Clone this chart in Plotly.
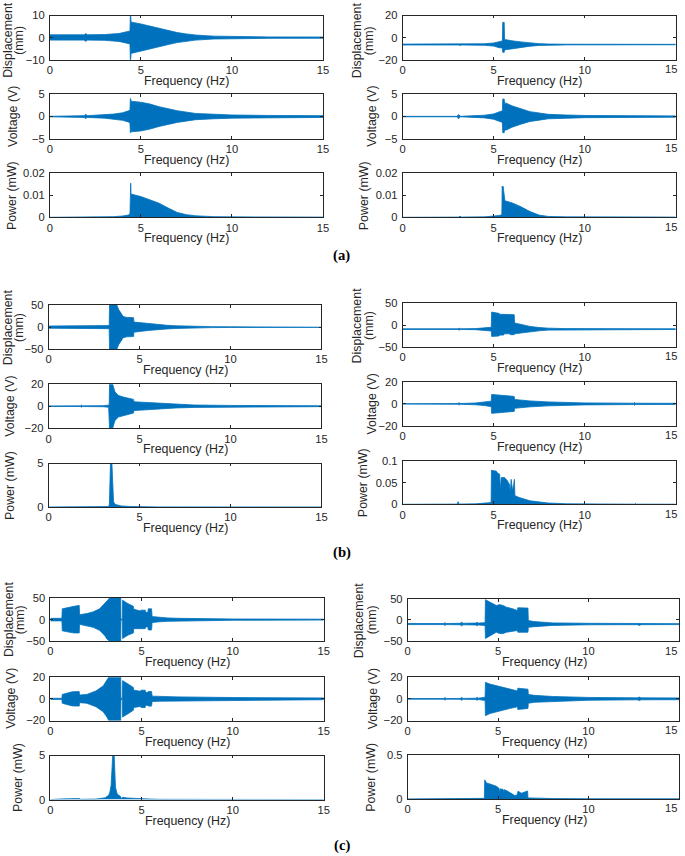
import plotly.graph_objects as go

# Figure fills the 685x856 window (body margin removed in post_script).
W, H = 685, 856
# The photographed page comes out about 1.5% smaller and a few px offset;
# layout positions below are written in the reference picture's pixels and
# mapped through this measured correction.
SX, OX = 0.9845, 4.0
SY, OY = 0.985, 6.2
BLUE = "rgb(0,114,189)"
INK = "#262626"
FONT = "Liberation Sans, Arial, sans-serif"

FREQ_TICKS = [0, 5, 10, 15]
FREQ_TICK_TEXT = ["0", "5", "10", "15"]
FREQ_RANGE = [0, 15]

# ---------------- (a) left ----------------
A_L_DISP_F = [0, 1.9, 1.95, 2.0, 2.05, 3.0, 3.8, 4.2, 4.4, 4.42, 4.44, 4.46, 4.5, 5.0, 5.5, 6.0, 6.5, 7.0, 7.5, 8.0, 9.0, 10.0, 12.0, 15.0]
A_L_DISP_HI = [1.3, 1.3, 1.8, 1.8, 1.3, 1.4, 1.9, 2.5, 3.0, 10, 10, 7.2, 7.0, 6.2, 5.2, 4.2, 3.2, 2.3, 1.7, 1.2, 0.7, 0.5, 0.35, 0.3]
A_L_DISP_LO = [-1.1, -1.1, -1.6, -1.6, -1.1, -1.2, -1.7, -2.4, -2.8, -10, -10, -7.1, -6.9, -6.1, -5.1, -4.1, -3.1, -2.2, -1.6, -1.1, -0.6, -0.45, -0.3, -0.25]

A_L_VOLT_F = [0, 1.0, 1.9, 1.95, 2.0, 2.05, 3.0, 3.5, 4.0, 4.3, 4.4, 4.42, 4.44, 4.46, 4.5, 5.0, 5.5, 6.0, 6.5, 7.0, 8.0, 9.0, 10.0, 12.0, 15.0]
A_L_VOLT_HI = [0.05, 0.1, 0.2, 0.45, 0.45, 0.2, 0.35, 0.55, 0.85, 1.2, 1.4, 4.0, 4.0, 3.4, 3.4, 3.2, 2.8, 2.2, 1.7, 1.3, 0.7, 0.5, 0.35, 0.25, 0.2]
A_L_VOLT_LO = [-0.05, -0.1, -0.2, -0.45, -0.45, -0.2, -0.35, -0.55, -0.85, -1.2, -1.4, -3.6, -3.6, -3.4, -3.4, -3.2, -2.8, -2.2, -1.7, -1.3, -0.7, -0.5, -0.35, -0.25, -0.2]

A_L_POW_F = [0, 2.0, 3.0, 3.5, 4.0, 4.3, 4.4, 4.42, 4.44, 4.46, 4.5, 5.0, 5.5, 6.0, 6.5, 7.0, 7.5, 8.0, 9.0, 10.0, 15.0]
A_L_POW_HI = [0, 0.00005, 0.0002, 0.0003, 0.0006, 0.001, 0.0015, 0.0155, 0.0155, 0.0105, 0.0105, 0.0094, 0.008, 0.0064, 0.0042, 0.0022, 0.0012, 0.0007, 0.0003, 0.0002, 0.0001]

# ---------------- (a) right ----------------
A_R_DISP_F = [0, 3.1, 3.15, 3.2, 3.25, 4.5, 5.0, 5.3, 5.48, 5.5, 5.58, 5.6, 5.7, 6.0, 6.5, 7.0, 7.5, 8.0, 9.0, 15.0]
A_R_DISP_HI = [-5.8, -5.8, -5.3, -5.3, -5.8, -5.5, -4.8, -3.5, -3.0, 13.8, 13.8, -1.6, -2.0, -2.8, -3.8, -4.8, -5.4, -5.7, -5.9, -6.0]
A_R_DISP_LO = [-6.6, -6.6, -7.1, -7.1, -6.6, -6.9, -7.6, -9.0, -9.4, -13.2, -13.2, -11.0, -10.5, -9.8, -8.7, -7.7, -7.0, -6.7, -6.5, -6.4]

A_R_VOLT_F = [0, 3.0, 3.05, 3.1, 3.15, 4.0, 4.5, 5.0, 5.3, 5.48, 5.5, 5.58, 5.6, 5.7, 6.0, 6.5, 7.0, 7.5, 8.0, 9.0, 10.0, 15.0]
A_R_VOLT_HI = [0.05, 0.05, 0.4, 0.4, 0.05, 0.15, 0.3, 0.6, 1.0, 1.3, 3.9, 3.9, 3.0, 3.0, 2.4, 1.7, 1.1, 0.8, 0.5, 0.35, 0.25, 0.15]
A_R_VOLT_LO = [-0.05, -0.05, -0.4, -0.4, -0.05, -0.15, -0.3, -0.6, -1.0, -1.3, -3.6, -3.6, -3.0, -3.0, -2.4, -1.7, -1.1, -0.8, -0.5, -0.35, -0.25, -0.15]

A_R_POW_F = [0, 3.1, 3.15, 3.2, 4.5, 5.0, 5.3, 5.45, 5.47, 5.5, 5.52, 5.55, 5.58, 5.62, 5.7, 6.0, 6.5, 7.0, 7.5, 8.0, 9.0, 15.0]
A_R_POW_HI = [0, 0.0001, 0.0006, 0.0001, 0.0002, 0.0004, 0.0008, 0.0012, 0.0142, 0.0128, 0.014, 0.0122, 0.0085, 0.0075, 0.0073, 0.0066, 0.0048, 0.0026, 0.001, 0.0004, 0.0002, 0.0001]

# ---------------- (b) left ----------------
B_L_DISP_F = [0, 1.75, 1.8, 1.85, 3.0, 3.3, 3.33, 3.35, 3.75, 3.85, 3.95, 4.05, 4.1, 4.3, 4.67, 4.69, 5.0, 5.5, 6.0, 6.5, 7.0, 8.0, 9.0, 10.0, 15.0]
B_L_DISP_HI = [2.5, 2.5, 4.0, 2.5, 2.8, 3.5, 3.5, 50, 50, 40, 33, 28, 24, 22, 21.5, 11.5, 10.0, 7.5, 5.4, 4.2, 3.0, 1.6, 1.1, 0.8, 0.5]
B_L_DISP_LO = [-2.5, -2.5, -4.0, -2.5, -2.8, -3.5, -3.5, -50, -50, -40, -33, -27, -24, -22, -21.5, -11.5, -10.0, -7.5, -5.4, -4.2, -3.0, -1.6, -1.1, -0.8, -0.5]

B_L_VOLT_F = [0, 1.75, 1.8, 1.85, 3.0, 3.3, 3.33, 3.35, 3.52, 3.65, 3.84, 4.11, 4.4, 4.67, 4.69, 5.0, 5.5, 6.0, 7.0, 8.0, 10.0, 15.0]
B_L_VOLT_HI = [0.2, 0.3, 1.0, 0.3, 0.5, 1.0, 1.0, 20, 20, 12.9, 9.8, 8.3, 7.2, 6.2, 4.0, 3.7, 3.0, 2.4, 1.6, 1.1, 0.7, 0.4]
B_L_VOLT_LO = [-0.2, -0.3, -1.0, -0.3, -0.5, -1.0, -1.0, -20, -20, -12.9, -9.8, -8.3, -7.2, -6.2, -4.0, -3.7, -3.0, -2.4, -1.6, -1.1, -0.7, -0.4]

B_L_POW_F = [0, 3.0, 3.3, 3.34, 3.36, 3.4, 3.48, 3.53, 3.57, 3.66, 3.8, 4.0, 4.5, 5.0, 6.0, 15.0]
B_L_POW_HI = [0, 0.01, 0.05, 0.3, 1.5, 5.0, 5.0, 1.4, 0.6, 0.3, 0.2, 0.12, 0.06, 0.03, 0.01, 0.0]

# ---------------- (b) right ----------------
B_R_DISP_F = [0, 3.05, 3.1, 3.15, 4.0, 4.5, 4.87, 4.89, 5.3, 5.32, 5.55, 5.57, 5.9, 5.92, 6.13, 6.15, 6.5, 7.0, 7.5, 8.0, 9.0, 12.7, 12.75, 12.8, 15.0]
B_R_DISP_HI = [-8.5, -8.5, -6.5, -8.5, -8.0, -7.0, -5.0, 30.0, 27.0, 25.0, 25.0, 24.0, 24.0, 24.5, 24.0, 5.0, 1.0, -3.0, -5.5, -7.0, -8.0, -8.5, -7.0, -8.5, -8.5]
B_R_DISP_LO = [-10.0, -10.0, -12.0, -10.0, -10.5, -11.5, -13.5, -26.0, -25.0, -23.0, -23.0, -20.0, -20.0, -22.0, -22.0, -20.0, -17.5, -15.0, -13.0, -11.5, -10.5, -10.0, -11.5, -10.0, -10.0]

B_R_VOLT_F = [0, 3.05, 3.1, 3.15, 4.0, 4.5, 4.87, 4.89, 5.3, 5.6, 5.9, 6.13, 6.15, 6.5, 7.0, 8.0, 9.0, 10.0, 12.7, 12.75, 12.8, 15.0]
B_R_VOLT_HI = [0.1, 0.3, 1.2, 0.3, 0.8, 1.5, 2.5, 8.6, 8.0, 7.5, 7.0, 6.8, 4.0, 3.4, 2.7, 1.8, 1.2, 0.9, 0.6, 1.3, 0.6, 0.5]
B_R_VOLT_LO = [-0.1, -0.3, -1.2, -0.3, -0.8, -1.5, -2.5, -8.6, -8.0, -7.5, -7.0, -6.8, -4.0, -3.4, -2.7, -1.8, -1.2, -0.9, -0.6, -1.3, -0.6, -0.5]

B_R_POW_F = [0, 3.0, 3.05, 3.1, 4.0, 4.5, 4.86, 4.88, 5.15, 5.2, 5.33, 5.37, 5.42, 5.6, 5.75, 5.88, 5.92, 5.96, 6.0, 6.04, 6.1, 6.14, 6.17, 6.4, 7.0, 7.5, 8.0, 9.0, 10.0, 12.75, 12.8, 12.85, 15.0]
B_R_POW_HI = [0, 0.0005, 0.006, 0.0005, 0.001, 0.002, 0.004, 0.079, 0.077, 0.073, 0.07, 0.034, 0.062, 0.062, 0.055, 0.045, 0.025, 0.058, 0.035, 0.032, 0.045, 0.058, 0.02, 0.016, 0.008, 0.005, 0.003, 0.0012, 0.0005, 0.0003, 0.002, 0.0003, 0.0002]

# ---------------- (c) left ----------------
C_L_DISP_F = [0, 0.63, 0.65, 1.0, 1.3, 1.58, 1.6, 2.0, 2.35, 2.7, 2.98, 3.1, 3.25, 3.86, 3.87, 3.95, 3.96, 4.26, 4.55, 4.57, 4.95, 4.97, 5.2, 5.22, 5.35, 5.37, 5.55, 5.58, 6.0, 6.4, 7.0, 8.0, 10.0, 15.0]
C_L_DISP_HI = [3, 3, 25, 29, 31, 33, 11.5, 14, 18, 25, 37, 44, 50, 50, 1, 1, 45, 37, 31, 24, 20, 22, 22, 17, 17, 25, 25, 7, 5, 4, 3, 2, 1.5, 1]
C_L_DISP_LO = [-3, -3, -26, -29, -31, -31, -11, -14, -18, -25, -37, -45, -50, -50, -1, -1, -44, -36, -31, -21, -20, -21, -21, -17, -17, -24, -24, -7, -5, -4, -3, -2, -1.5, -1]

C_L_VOLT_F = [0, 0.63, 0.65, 1.2, 1.58, 1.6, 2.0, 2.5, 2.9, 3.1, 3.2, 3.86, 3.87, 3.95, 3.96, 4.26, 4.55, 4.57, 4.95, 4.97, 5.2, 5.22, 5.35, 5.37, 5.55, 5.58, 6.0, 7.0, 10.0, 15.0]
C_L_VOLT_HI = [0.5, 0.5, 4.1, 6.5, 6.7, 3.5, 4.1, 7.3, 12, 16.8, 20, 20, 0.5, 0.5, 16.8, 13.7, 10.5, 8, 7, 8, 8, 6, 6, 6.7, 6.7, 2.5, 2.2, 1.8, 1.2, 0.8]
C_L_VOLT_LO = [-0.5, -0.5, -4.1, -6.5, -6.7, -3.5, -4.1, -7.3, -12, -16.8, -20, -20, -0.5, -0.5, -16.8, -13.7, -10.5, -8, -7, -8, -8, -6, -6, -6.7, -6.7, -2.5, -2.2, -1.8, -1.2, -0.8]

C_L_POW_F = [0, 0.63, 0.65, 1.6, 1.62, 2.5, 3.0, 3.2, 3.26, 3.33, 3.38, 3.42, 3.5, 3.57, 3.66, 3.85, 3.9, 3.97, 4.2, 4.6, 5.0, 5.5, 6.0, 8.0, 15.0]
C_L_POW_HI = [0, 0, 0.08, 0.12, 0.03, 0.06, 0.2, 0.5, 0.83, 1.6, 3.3, 5.0, 5.0, 1.4, 0.64, 0.34, 0.1, 0.27, 0.18, 0.12, 0.08, 0.06, 0.03, 0.01, 0.005]

# ---------------- (c) right ----------------
C_R_DISP_F = [0, 2.0, 2.06, 2.12, 2.9, 2.98, 3.06, 3.78, 3.84, 3.9, 4.28, 4.3, 4.54, 4.9, 5.09, 5.28, 5.46, 5.64, 5.83, 6.07, 6.09, 6.65, 6.67, 7.0, 8.0, 10.0, 12.7, 12.8, 12.9, 15.0]
C_R_DISP_HI = [-8.5, -8.5, -6.5, -8.5, -8, -5.5, -8, -7.5, -5.5, -7.5, -6.5, 47.6, 42, 34, 36, 34, 30, 28.6, 26, 22, 28.6, 27.8, -1.6, -4, -7, -8, -8.5, -7, -8.5, -8.8]
C_R_DISP_LO = [-11, -11, -13, -11, -11.5, -14, -11.5, -12, -14, -12, -13, -43.7, -37, -29, -32, -32, -29, -28, -26, -25, -29, -29, -17.5, -16, -13, -11.5, -11.2, -13, -11.2, -11]

C_R_VOLT_F = [0, 2.0, 2.06, 2.12, 2.9, 2.98, 3.06, 3.78, 3.84, 3.9, 4.28, 4.3, 4.54, 5.09, 5.28, 5.64, 6.07, 6.09, 6.65, 6.67, 7.0, 8.0, 10.0, 12.7, 12.8, 12.9, 15.0]
C_R_VOLT_HI = [0.3, 0.3, 1.3, 0.3, 0.4, 1.3, 0.4, 0.6, 1.4, 0.6, 1.5, 15.2, 13.6, 11.4, 10.5, 8.9, 7.3, 9.8, 8.9, 4.1, 3.2, 2.2, 1.3, 0.9, 1.6, 0.9, 0.8]
C_R_VOLT_LO = [-0.3, -0.3, -1.3, -0.3, -0.4, -1.3, -0.4, -0.6, -1.4, -0.6, -1.5, -15.5, -13.6, -11.4, -10.5, -8.9, -7.3, -9.8, -8.9, -4.1, -3.2, -2.2, -1.3, -0.9, -1.6, -0.9, -0.8]

C_R_POW_F = [0, 2.9, 2.98, 3.06, 4.0, 4.24, 4.26, 4.36, 4.54, 4.9, 5.05, 5.09, 5.12, 5.28, 5.3, 5.33, 5.46, 5.64, 5.92, 6.05, 6.1, 6.29, 6.56, 6.63, 6.65, 7.0, 8.0, 10.0, 12.8, 15.0]
C_R_POW_HI = [0, 0.001, 0.006, 0.001, 0.003, 0.006, 0.216, 0.18, 0.17, 0.144, 0.12, 0.064, 0.114, 0.106, 0.07, 0.104, 0.095, 0.076, 0.038, 0.045, 0.087, 0.064, 0.087, 0.09, 0.011, 0.008, 0.004, 0.0015, 0.003, 0.001]

# ---------------- y-axis ticks ----------------
YT_DISP10 = [-10, 0, 10]
YT_DISP20 = [-20, 0, 20]
YT_DISP50 = [-50, 0, 50]
YT_VOLT5 = [-5, 0, 5]
YT_VOLT20 = [-20, 0, 20]
YT_POW002 = [0, 0.01, 0.02]
YT_POW002_TXT = ["0", "0.01", "0.02"]
YT_POW5 = [0, 5]
YT_POW01 = [0, 0.05, 0.1]
YT_POW01_TXT = ["0", "0.05", "0.1"]
YT_POW05 = [0, 0.5]
YT_POW05_TXT = ["0", "0.5"]

PANEL_LABELS = ["(a)", "(b)", "(c)"]

# (freq, upper, lower, y-range, y-ticks, y-tick text, kind, column,
#  box in reference px (x0, x1, y0, y1), y-title x positions, y-title y centre)
panels = [
    (A_L_DISP_F, A_L_DISP_HI, A_L_DISP_LO, [-10, 10], YT_DISP10, None, "disp", "L", (50.7, 323.3, 15.7, 60.0), (9.5, 20.5), 40.5),
    (A_L_VOLT_F, A_L_VOLT_HI, A_L_VOLT_LO, [-5, 5], YT_VOLT5, None, "volt", "L", (50.7, 323.3, 94.3, 139.0), (13.3,), None),
    (A_L_POW_F, A_L_POW_HI, None, [0, 0.02], YT_POW002, YT_POW002_TXT, "pow", "L", (50.7, 323.3, 173.3, 217.3), (12.8,), None),
    (A_R_DISP_F, A_R_DISP_HI, A_R_DISP_LO, [-20, 20], YT_DISP20, None, "disp", "R", (402.7, 675.0, 15.7, 60.0), (357.0, 369.0), 40.5),
    (A_R_VOLT_F, A_R_VOLT_HI, A_R_VOLT_LO, [-5, 5], YT_VOLT5, None, "volt", "R", (402.7, 675.0, 94.3, 139.0), (371.3,), None),
    (A_R_POW_F, A_R_POW_HI, None, [0, 0.02], YT_POW002, YT_POW002_TXT, "pow", "R", (402.7, 675.0, 173.3, 217.3), (364.0,), None),
    (B_L_DISP_F, B_L_DISP_HI, B_L_DISP_LO, [-50, 50], YT_DISP50, None, "disp", "L", (49.5, 321.7, 305.0, 349.0), (9.0, 19.8), None),
    (B_L_VOLT_F, B_L_VOLT_HI, B_L_VOLT_LO, [-20, 20], YT_VOLT20, None, "volt", "L", (49.5, 321.7, 384.0, 428.0), (11.5,), None),
    (B_L_POW_F, B_L_POW_HI, None, [0, 5], YT_POW5, None, "pow", "L", (49.5, 321.7, 463.3, 506.7), (11.7,), None),
    (B_R_DISP_F, B_R_DISP_HI, B_R_DISP_LO, [-50, 50], YT_DISP50, None, "disp", "R", (402.7, 675.0, 303.3, 346.7), (357.5, 369.0), None),
    (B_R_VOLT_F, B_R_VOLT_HI, B_R_VOLT_LO, [-20, 20], YT_VOLT20, None, "volt", "R", (402.7, 675.0, 381.7, 425.7), (371.7,), None),
    (B_R_POW_F, B_R_POW_HI, None, [0, 0.1], YT_POW01, YT_POW01_TXT, "pow", "R", (402.7, 675.0, 461.0, 504.0), (362.5,), None),
    (C_L_DISP_F, C_L_DISP_HI, C_L_DISP_LO, [-50, 50], YT_DISP50, None, "disp", "L", (51.3, 324.0, 597.7, 640.7), (9.5, 20.5), None),
    (C_L_VOLT_F, C_L_VOLT_HI, C_L_VOLT_LO, [-20, 20], YT_VOLT20, None, "volt", "L", (51.3, 324.0, 676.7, 720.0), (12.0,), None),
    (C_L_POW_F, C_L_POW_HI, None, [0, 5], YT_POW5, None, "pow", "L", (51.3, 324.0, 755.0, 799.0), (18.3,), None),
    (C_R_DISP_F, C_R_DISP_HI, C_R_DISP_LO, [-50, 50], YT_DISP50, None, "disp", "R", (407.7, 680.0, 598.3, 640.7), (359.5, 372.5), None),
    (C_R_VOLT_F, C_R_VOLT_HI, C_R_VOLT_LO, [-20, 20], YT_VOLT20, None, "volt", "R", (407.7, 680.0, 676.7, 720.0), (372.5,), None),
    (C_R_POW_F, C_R_POW_HI, None, [0, 0.5], YT_POW05, YT_POW05_TXT, "pow", "R", (407.7, 680.0, 754.3, 798.3), (371.0,), None),
]

TITLE_FONT = dict(family=FONT, size=12.4, color=INK)
TICK_FONT = dict(family=FONT, size=11.2, color=INK)


def px(x):
    return min(max((x - OX) / SX / W, 0.0), 1.0)


def py(y):
    return min(max(1 - (y - OY) / SY / H, 0.0), 1.0)


fig = go.Figure()
layout = {}
annotations = []

for i, (f, hi, lo, yr, yt, ytt, kind, col, box, ylx, ylc) in enumerate(panels, start=1):
    xa = "x" if i == 1 else f"x{i}"
    ya = "y" if i == 1 else f"y{i}"
    if lo is None:
        fig.add_trace(go.Scatter(x=f, y=hi, mode="lines", fill="tozeroy",
                                 line=dict(color=BLUE, width=0.8), fillcolor=BLUE,
                                 xaxis=xa, yaxis=ya, hoverinfo="skip", showlegend=False))
    else:
        fig.add_trace(go.Scatter(x=list(f) + list(f)[::-1], y=list(hi) + list(lo)[::-1],
                                 mode="lines", fill="toself",
                                 line=dict(color=BLUE, width=0.8), fillcolor=BLUE,
                                 xaxis=xa, yaxis=ya, hoverinfo="skip", showlegend=False))
    x0, x1, y0, y1 = box
    common = dict(showline=True, linecolor=INK, linewidth=0.7, mirror="ticks",
                  ticks="inside", ticklen=3, tickwidth=0.7, tickcolor=INK,
                  showgrid=False, zeroline=False, tickfont=TICK_FONT, fixedrange=True)
    xtt = FREQ_TICK_TEXT if col == "L" else FREQ_TICK_TEXT[:-1] + [""]
    layout["xaxis" if i == 1 else f"xaxis{i}"] = dict(
        domain=[px(x0), px(x1)], anchor=ya, range=FREQ_RANGE,
        tickvals=FREQ_TICKS, ticktext=xtt, ticklabelstandoff=0, **common)
    yd = dict(domain=[py(y1), py(y0)], anchor=xa, range=yr, tickvals=yt,
              ticklabelstandoff=2, **common)
    if ytt is not None:
        yd["ticktext"] = ytt
    layout["yaxis" if i == 1 else f"yaxis{i}"] = yd

    if col == "R":
        # last frequency tick label, kept inside the page edge
        annotations.append(dict(text=FREQ_TICK_TEXT[-1], x=1.0, y=py(y1 + 9.5), xref="paper", yref="paper",
                                showarrow=False, xanchor="right", yanchor="middle", font=TICK_FONT))

    annotations.append(dict(text="Frequency (Hz)", x=px((x0 + x1) / 2), y=py(y1 + 21),
                            xref="paper", yref="paper", showarrow=False,
                            xanchor="center", yanchor="middle", font=TITLE_FONT))
    yc = py(ylc if ylc is not None else (y0 + y1) / 2)
    if kind == "disp":
        for txt, xx in zip(["Displacement", "(mm)"], ylx):
            annotations.append(dict(text=txt, x=px(xx), y=yc, xref="paper", yref="paper",
                                    showarrow=False, textangle=-90, xanchor="center",
                                    yanchor="middle", font=TITLE_FONT))
    else:
        txt = "Voltage (V)" if kind == "volt" else "Power (mW)"
        annotations.append(dict(text=txt, x=px(ylx[0]), y=yc, xref="paper", yref="paper",
                                showarrow=False, textangle=-90, xanchor="center",
                                yanchor="middle", font=TITLE_FONT))

for lbl, yy in zip(PANEL_LABELS, [255, 552, 845]):
    annotations.append(dict(text=f"<b>{lbl}</b>", x=px(342), y=py(yy), xref="paper", yref="paper",
                            showarrow=False, xanchor="center", yanchor="middle",
                            font=dict(family="Liberation Serif, Times New Roman, serif", size=14.7, color="black")))

fig.update_layout(**layout)
fig.update_layout(annotations=annotations, width=W, height=H, autosize=False,
                  margin=dict(l=0, r=0, t=0, b=0), paper_bgcolor="white",
                  plot_bgcolor="white", showlegend=False)

fig.write_html("out.html", config={"displayModeBar": False},
               post_script="document.body.style.margin='0';document.body.style.overflow='hidden';")
